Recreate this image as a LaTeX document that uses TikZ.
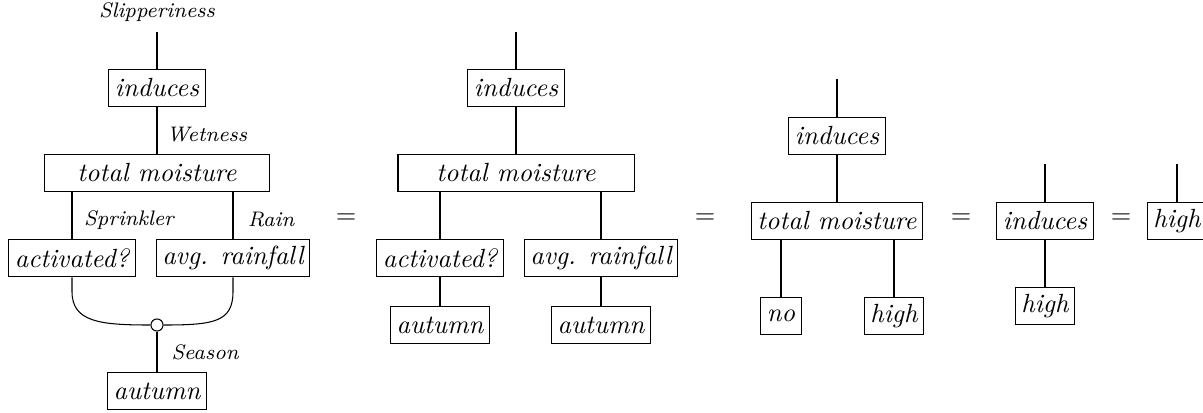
\documentclass[tikz,border=0pt]{standalone}
\begin{document}
\begin{tikzpicture}[x=0.38pt,y=-0.38pt,
  box/.style={draw, rectangle, font=\itshape, inner xsep=2.3pt, inner ysep=2pt, minimum height=14.4pt},
  lab/.style={font=\footnotesize\itshape, inner sep=0pt},
  eq/.style={inner sep=0pt},
  dot/.style={draw, circle, fill=white, minimum size=4.6pt, inner sep=0pt}]
\useasboundingbox (0,0) rectangle (1203,412);
% ---------- diagram 1 ----------
\coordinate (t1) at (157,32);
\node[box] (ind1) at (157,88) {induces};
\node[box, minimum width=85.5pt] (tm1) at (157,173) {total moisture};
\node[box] (act1) at (72,258) {activated?};
\node[box] (avg1) at (233,258) {avg. rainfall};
\node[dot] (circ1) at (157,325) {};
\node[box] (aut1) at (157,391) {autumn};
\node[lab] (l1) at (157,12) {Slipperiness};
\node[lab] (l2) at (207,135) {Wetness};
\node[lab] (l3) at (129,220) {Sprinkler};
\node[lab] (l4) at (271,220) {Rain};
\node[lab] (l5) at (205,352) {Season};
\draw (t1) -- (ind1);
\draw (ind1) -- (tm1);
\draw (act1.north) -- (act1.north |- tm1.south);
\draw (avg1.north) -- (avg1.north |- tm1.south);
\draw (act1.south) -- ++(0,14) .. controls (72,322) and (100,325) .. (circ1.west);
\draw (avg1.south) -- ++(0,14) .. controls (233,322) and (214,325) .. (circ1.east);
\draw (circ1) -- (aut1);
\node[eq] (e1) at (346,219) {$=$};
% ---------- diagram 2 ----------
\coordinate (t2) at (516,32);
\node[box] (ind2) at (516,88) {induces};
\node[box, minimum width=89.7pt] (tm2) at (516,173) {total moisture};
\node[box] (act2) at (440,258) {activated?};
\node[box] (avg2) at (601,258) {avg. rainfall};
\node[box] (aut2a) at (440,325) {autumn};
\node[box] (aut2b) at (601,325) {autumn};
\draw (t2) -- (ind2);
\draw (ind2) -- (tm2);
\draw (act2.north) -- (act2.north |- tm2.south);
\draw (avg2.north) -- (avg2.north |- tm2.south);
\draw (act2) -- (aut2a);
\draw (avg2) -- (aut2b);
\node[eq] (e2) at (705,219) {$=$};
% ---------- diagram 3 ----------
\coordinate (t3) at (837,79);
\node[box] (ind3) at (837,136) {induces};
\node[box] (tm3) at (837,221) {total moisture};
\node[box] (no3) at (781,316) {no};
\node[box] (high3) at (894,316) {high};
\draw (t3) -- (ind3);
\draw (ind3) -- (tm3);
\draw (no3.north) -- (no3.north |- tm3.south);
\draw (high3.north) -- (high3.north |- tm3.south);
\node[eq] (e3) at (961,219) {$=$};
% ---------- diagram 4 ----------
\coordinate (t4) at (1045,164);
\node[box] (ind4) at (1045,221) {induces};
\node[box] (high4) at (1045,306) {high};
\draw (t4) -- (ind4);
\draw (ind4) -- (high4);
\node[eq] (e4) at (1121,219) {$=$};
% ---------- diagram 5 ----------
\coordinate (t5) at (1177,164);
\node[box] (high5) at (1177,221) {high};
\draw (t5) -- (high5);
\end{tikzpicture}
\end{document}
